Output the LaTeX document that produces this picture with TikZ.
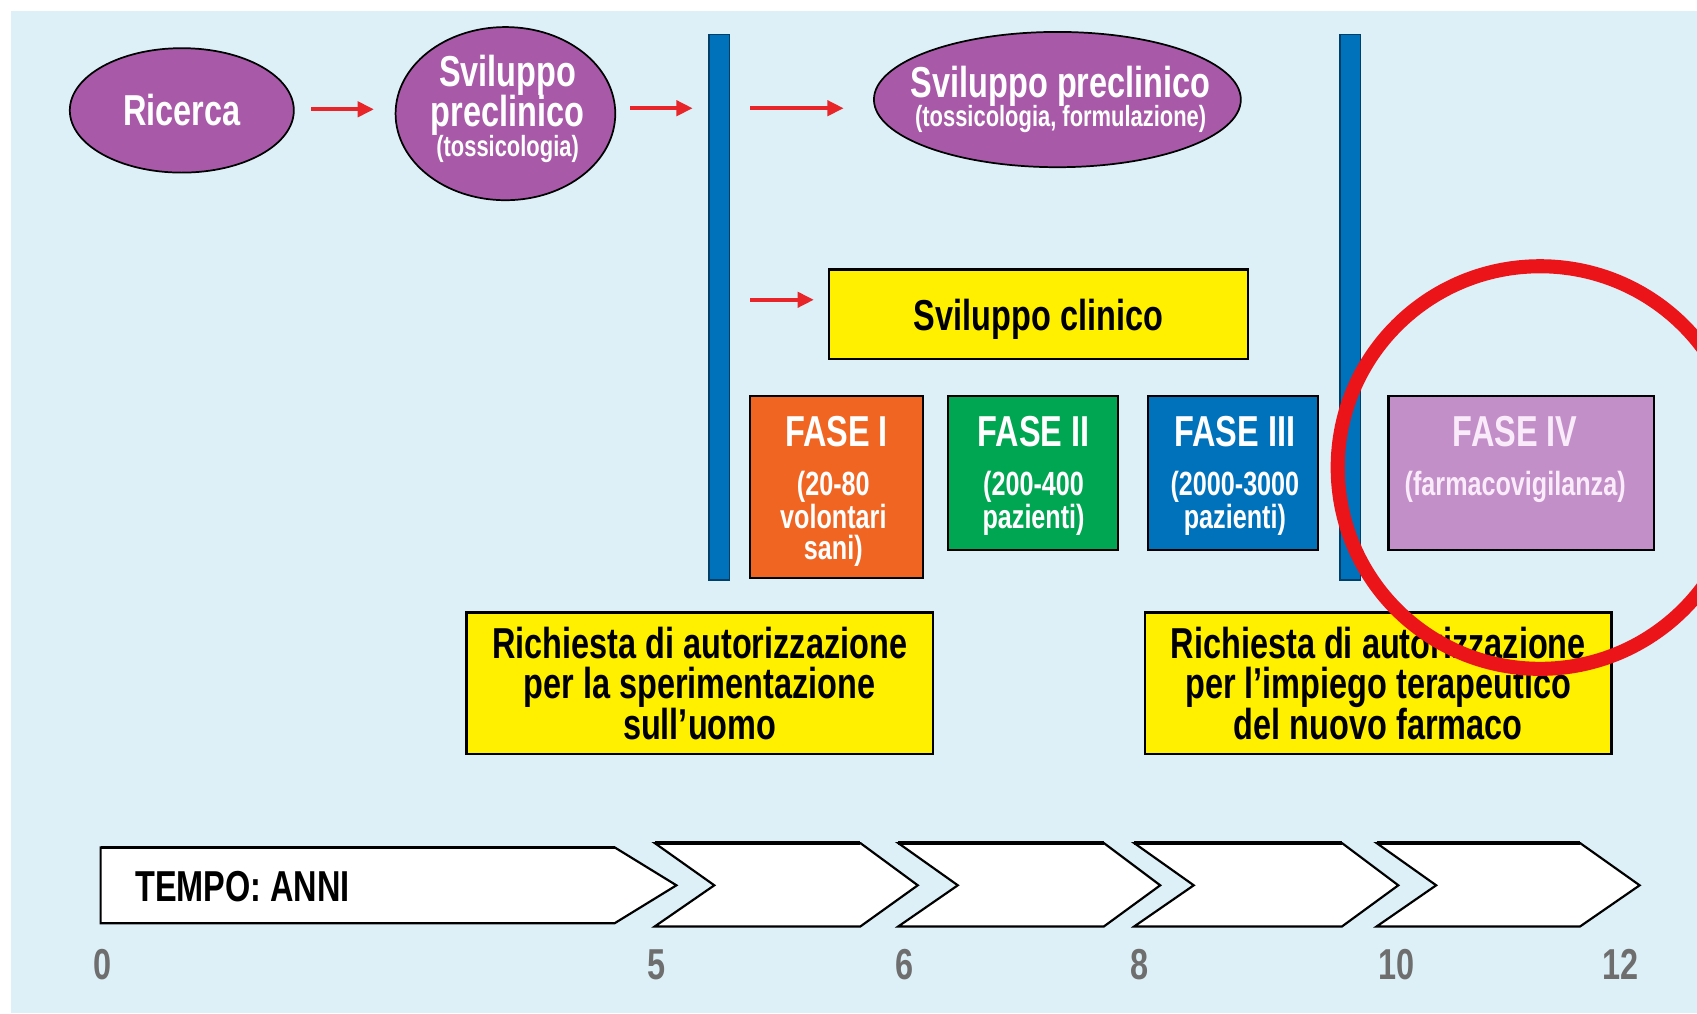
\documentclass[tikz,border=0pt]{standalone}
\usepackage{fontspec}
\setmainfont{Liberation Sans}[FakeStretch=0.75]
\usetikzlibrary{shapes.geometric,arrows.meta}
\definecolor{bg}{RGB}{222,240,247}
\definecolor{purp}{RGB}{168,90,168}
\definecolor{barblue}{RGB}{0,114,188}
\definecolor{arrred}{RGB}{232,38,42}
\definecolor{yel}{RGB}{255,240,0}
\definecolor{ora}{RGB}{241,101,34}
\definecolor{grn}{RGB}{0,166,81}
\definecolor{blu}{RGB}{0,114,188}
\definecolor{lil}{RGB}{195,143,200}
\definecolor{circred}{RGB}{235,20,25}
\definecolor{numgray}{RGB}{110,110,110}
\definecolor{pinkw}{RGB}{250,235,250}
\newcommand{\fbig}{\fontsize{40}{37}\selectfont\bfseries}
\newcommand{\fmid}{\fontsize{31}{30}\selectfont\bfseries}
\newcommand{\fsml}{\fontsize{27}{27}\selectfont\bfseries}
\begin{document}
\begin{tikzpicture}[x=1pt,y=-1pt,
  every node/.style={inner sep=0pt, outer sep=0pt},
  oval/.style={ellipse, draw=black, line width=1.6, fill=purp},
  box/.style={rectangle, draw=black, line width=2},
  bar/.style={rectangle, draw=black!45!barblue, line width=1.2, fill=barblue, minimum width=19, minimum height=504},
  arr/.style={draw=arrred, line width=3.5, -{Triangle[length=15,width=14]}},
  wt/.style={text=white, anchor=base},
  bt/.style={text=black, anchor=base},
  chev/.style={draw=black, line width=2, fill=white, line join=miter},
  num/.style={text=numgray, anchor=base, font=\fbig}]
\useasboundingbox (0,0) rectangle (1568,936);
\fill[white] (0,0) rectangle (1568,936);
\fill[bg] (10,10) rectangle (1568,936);

% top row ellipses
\node[oval, minimum width=207, minimum height=115, text=white, font=\fbig] (ric) at (168,102) {Ricerca};
\node[oval, minimum width=203, minimum height=160] (sv1) at (467,105) {};
\node[wt, font=\fbig] (sv1a) at (469,80) {Sviluppo};
\node[wt, font=\fbig] (sv1b) at (469,117) {preclinico};
\node[wt, font=\fsml] (sv1c) at (469,145) {(tossicologia)};
\node[oval, minimum width=339, minimum height=125] (sv2) at (977,92) {};
\node[wt, font=\fbig] (sv2a) at (980,90) {Sviluppo preclinico};
\node[wt, font=\fsml] (sv2b) at (980,117) {(tossicologia, formulazione)};

% vertical bars
\node[bar] (bar1) at (664.5,284) {};
\node[bar] (bar2) at (1247.5,284) {};

% clinical development
\node[box, fill=yel, minimum width=387, minimum height=83, font=\fbig, text depth=0pt] (clin) at (959.5,290.5) {Sviluppo clinico};

% phases
\node[box, fill=ora, minimum width=160, minimum height=168] (f1) at (773,450) {};
\node[wt, font=\fbig] (f1a) at (773,413) {FASE I};
\node[wt, font=\fmid] (f1b) at (770,458) {(20-80};
\node[wt, font=\fmid] (f1c) at (770,488) {volontari};
\node[wt, font=\fmid] (f1d) at (770,517) {sani)};

\node[box, fill=grn, minimum width=157, minimum height=142] (f2) at (954.5,437) {};
\node[wt, font=\fbig] (f2a) at (955,413) {FASE II};
\node[wt, font=\fmid] (f2b) at (955,458) {(200-400};
\node[wt, font=\fmid] (f2c) at (955,488) {pazienti)};

\node[box, fill=blu, minimum width=157, minimum height=142] (f3) at (1139.5,437) {};
\node[wt, font=\fbig] (f3a) at (1141,413) {FASE III};
\node[wt, font=\fmid] (f3b) at (1141,458) {(2000-3000};
\node[wt, font=\fmid] (f3c) at (1141,488) {pazienti)};

\node[box, fill=lil, minimum width=245, minimum height=142] (f4) at (1405.5,437) {};
\node[anchor=base, text=pinkw, font=\fbig] (f4a) at (1400,413) {FASE IV};
\node[anchor=base, text=pinkw, font=\fmid] (f4b) at (1400,458) {(farmacovigilanza)};

% requests
\node[box, fill=yel, minimum width=431, minimum height=131, align=center, font=\fbig] (r1) at (646.5,631.5)
  {Richiesta di autorizzazione\\per la sperimentazione\\sull’uomo};
\node[box, fill=yel, minimum width=431, minimum height=131, align=center, font=\fbig] (r2) at (1273.5,631.5)
  {Richiesta di autorizzazione\\per l’impiego terapeutico\\del nuovo farmaco};

% arrows
\draw[arr, shorten <=16, shorten >=20] (ric.east |- 0,101) -- (sv1.west |- 0,101);
\draw[arr, shorten <=14, shorten >=15] (sv1.east |- 0,100) -- (bar1.west |- 0,100);
\draw[arr, shorten <=19, shorten >=28] (bar1.east |- 0,100) -- (sv2.west |- 0,100);
\draw[arr, shorten <=19, shorten >=14] (bar1.east |- 0,277) -- (clin.west |- 0,277);

% timeline chevrons
\draw[chev] (93,783) -- (568,783) -- (625,818) -- (568,853) -- (93,853) -- cycle;
\draw[chev] (605,779) -- (795,779) -- (848,818) -- (795,856) -- (605,856) -- (660,818) -- cycle;
\draw[chev] (830,779) -- (1020,779) -- (1072,818) -- (1020,856) -- (830,856) -- (885,818) -- cycle;
\draw[chev] (1048,779) -- (1240,779) -- (1292,818) -- (1240,856) -- (1048,856) -- (1103,818) -- cycle;
\draw[chev] (1272,779) -- (1460,779) -- (1515,818) -- (1460,856) -- (1272,856) -- (1327,818) -- cycle;
\draw[line width=3.5] (93,783) -- (568,783);
\draw[line width=3.5] (605,779) -- (795,779);
\draw[line width=3.5] (830,779) -- (1020,779);
\draw[line width=3.5] (1048,779) -- (1240,779);
\draw[line width=3.5] (1272,779) -- (1460,779);
\node[anchor=base west, font=\fbig] (tempo) at (125,833) {TEMPO: ANNI};

\node[num] (n0) at (95,905) {0};
\node[num] (n5) at (607,905) {5};
\node[num] (n6) at (836,905) {6};
\node[num] (n8) at (1053,905) {8};
\node[num] (n10) at (1290,905) {10};
\node[num] (n12) at (1497,905) {12};

% red circle
\begin{scope}
\clip (0,0) rectangle (1568,936);
\draw[circred, line width=13] (1423,432) ellipse [x radius=187, y radius=186];
\end{scope}
\end{tikzpicture}
\end{document}
